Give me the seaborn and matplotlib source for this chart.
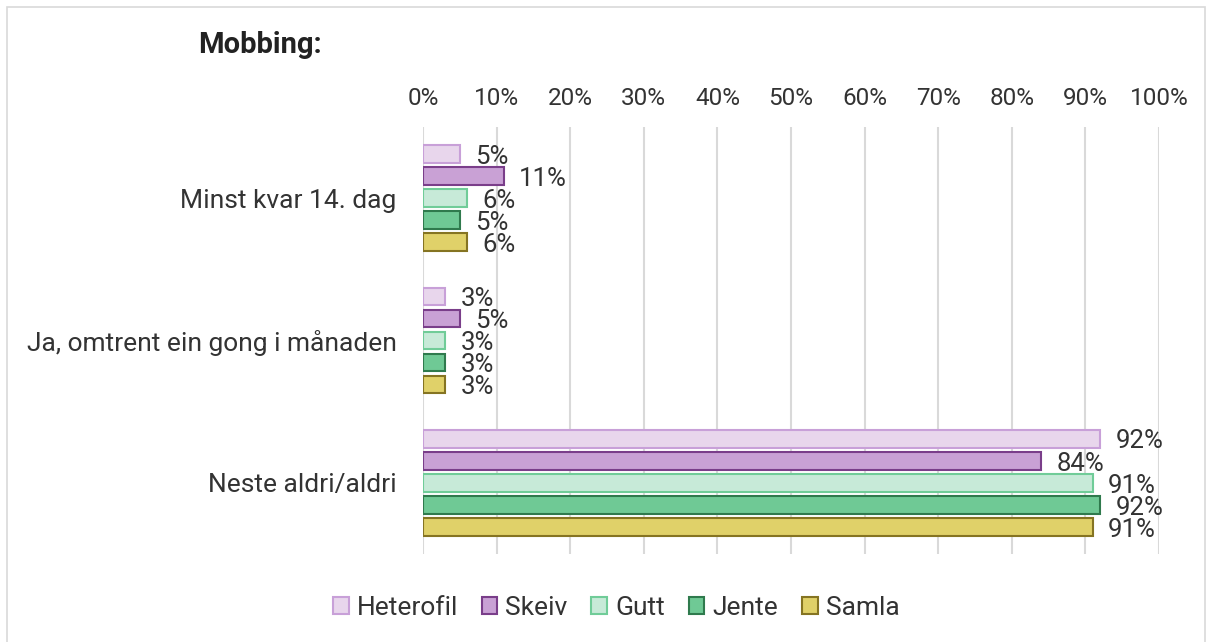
import matplotlib
matplotlib.use("Agg")
import matplotlib.pyplot as plt
import seaborn as sns
import pandas as pd
from matplotlib.patches import Patch, Rectangle
from matplotlib.ticker import FuncFormatter

categories = ["Minst kvar 14. dag", "Ja, omtrent ein gong i månaden", "Neste aldri/aldri"]
groups = ["Heterofil", "Skeiv", "Gutt", "Jente", "Samla"]
heterofil = [5, 3, 92]
skeiv = [11, 5, 84]
gutt = [6, 3, 91]
jente = [5, 3, 92]
samla = [6, 3, 91]
title = "Mobbing:"

fills = ["#E8D6EC", "#C9A1D5", "#C7EAD8", "#6FC995", "#E0D169"]
edges = ["#C8A0D8", "#7A3E8A", "#70CC98", "#2F7A4D", "#857422"]

series = [heterofil, skeiv, gutt, jente, samla]
rows = []
for g, vals in zip(groups, series):
    for c, v in zip(categories, vals):
        rows.append({"Kategori": c, "Gruppe": g, "Verdi": v})
df = pd.DataFrame(rows)

sns.set_theme(style="white")
plt.rcParams["font.family"] = ["Roboto", "DejaVu Sans"]

fig = plt.figure(figsize=(12.12, 6.42), dpi=100)
ax = fig.add_axes([423 / 1212, 1 - 554 / 642, 736 / 1212, 427 / 642])

sns.barplot(data=df, y="Kategori", x="Verdi", hue="Gruppe", order=categories,
            hue_order=groups, palette=fills, orient="h", width=0.775, gap=0.2,
            ax=ax, legend=False, errorbar=None, linewidth=1.5, saturation=1)

for cont, ec in zip(ax.containers, edges):
    for p in cont:
        p.set_edgecolor(ec)
        p.set_linewidth(1.5)
    texts = ax.bar_label(cont, labels=[f"{int(round(v.get_width()))}%" for v in cont],
                         padding=11, fontsize=18.5, color="#333333")
    for t in texts:
        t.xyann = (11, -2)

ax.set_xlim(0, 100)
ax.set_xticks(range(0, 101, 10))
ax.xaxis.set_major_formatter(FuncFormatter(lambda v, p: f"{int(v)}%"))
ax.xaxis.tick_top()
ax.tick_params(axis="x", length=0, pad=12.5, labelsize=17.5, colors="#333333")
ax.tick_params(axis="y", length=0, pad=19, labelsize=19, colors="#333333")
ax.set_xlabel("")
ax.set_ylabel("")
ax.grid(axis="x", color="#D9D9D9", linewidth=1.5)
ax.set_axisbelow(True)
for s in ax.spines.values():
    s.set_visible(False)

fig.text(198 / 1212, 1 - 45 / 642, title, fontsize=21, fontweight="bold",
         color="#222222", va="center", ha="left")

handles = [Patch(facecolor=f, edgecolor=e, linewidth=1.5, label=g)
           for f, e, g in zip(fills, edges, groups)]
fig.legend(handles=handles, loc="center", bbox_to_anchor=(616 / 1212, 1 - 608 / 642),
           ncol=5, frameon=False, fontsize=19, handlelength=0.6, handleheight=0.6,
           handletextpad=0.3, columnspacing=0.9, labelcolor="#333333")

fig.patches.append(Rectangle((7 / 1212, -0.05), 1198 / 1212, 1.05 - 7 / 642,
                             transform=fig.transFigure, fill=False,
                             edgecolor="#D9D9D9", linewidth=1.2))

fig.savefig("out.png", dpi=100)
